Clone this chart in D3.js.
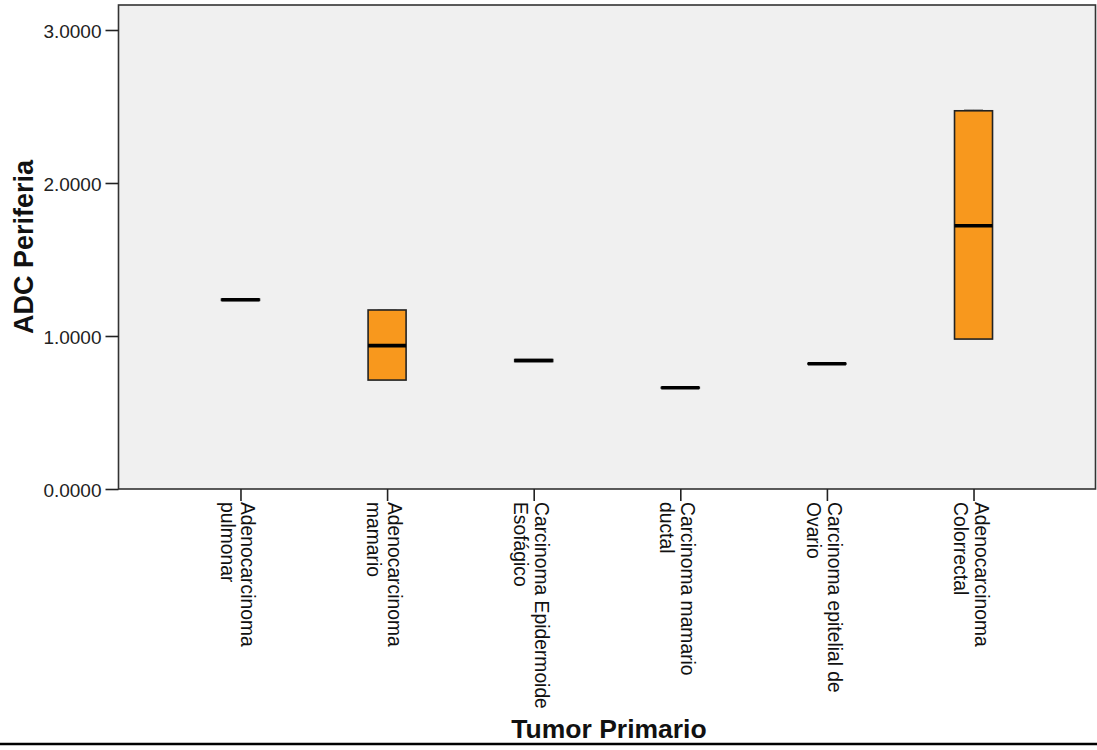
<!DOCTYPE html>
<html>
<head>
<meta charset="utf-8">
<script src="https://cdn.jsdelivr.net/npm/d3@7"></script>
<style>
  body { margin: 0; background: #fff; }
  svg { display: block; }
</style>
</head>
<body>
<div class="C"></div>
<script>
// tumor types (x categories), label split in two lines
var categories = ['Adenocarcinoma pulmonar', 'Adenocarcinoma mamario', 'Carcinoma Epidermoide Esofágico',
    'Carcinoma mamario ductal', 'Carcinoma epitelial de Ovario', 'Adenocarcinoma Colorrectal'];
var tickLines = [['Adenocarcinoma', 'pulmonar'], ['Adenocarcinoma', 'mamario'], ['Carcinoma Epidermoide', 'Esofágico'],
    ['Carcinoma mamario', 'ductal'], ['Carcinoma epitelial de', 'Ovario'], ['Adenocarcinoma', 'Colorrectal']];

// ADC periferia box values
var whiskerLow = [1.233, 0.712, 0.833, 0.660, 0.817, 0.980];
var q1 =         [1.233, 0.712, 0.833, 0.660, 0.817, 0.980];
var median =     [1.237, 0.937, 0.840, 0.662, 0.819, 1.721];
var q3 =         [1.241, 1.170, 0.846, 0.664, 0.821, 2.472];
var whiskerHigh = [1.241, 1.170, 0.846, 0.664, 0.821, 2.479];

var yTicks = [0, 1, 2, 3];

var W = 1097, H = 750;
var pLeft = 118.5, pRight = 1095.5, pTop = 5, pBottom = 489;
var font = 'Arial, "Liberation Sans", sans-serif';

var svg = d3.select('.C').append('svg').attr('width', W).attr('height', H);

var x = d3.scalePoint().domain(categories).range([pLeft, pRight]).padding(0.832);
var y = d3.scaleLinear().domain([0, 3.1634]).range([pBottom, pTop]);

// plot background
svg.append('rect')
    .attr('x', pLeft).attr('y', pTop)
    .attr('width', pRight - pLeft).attr('height', pBottom - pTop)
    .style('fill', '#f0f0f0').style('stroke', '#333').style('stroke-width', 1.6);

var boxes = categories.map(function (c, i) {
    return {cat: c, lo: whiskerLow[i], q1: q1[i], med: median[i], q3: q3[i], hi: whiskerHigh[i]};
});
var bw = 38;

var g = svg.append('g');
var box = g.selectAll('.box').data(boxes).enter().append('g').attr('class', 'box');

// whiskers
box.append('line')
    .attr('x1', function (d) { return x(d.cat) }).attr('x2', function (d) { return x(d.cat) })
    .attr('y1', function (d) { return y(d.hi) }).attr('y2', function (d) { return y(d.lo) })
    .style('stroke', '#999').style('stroke-width', 1);
box.append('line')
    .attr('x1', function (d) { return x(d.cat) - bw / 4 }).attr('x2', function (d) { return x(d.cat) + bw / 4 })
    .attr('y1', function (d) { return y(d.hi) }).attr('y2', function (d) { return y(d.hi) })
    .style('stroke', '#999').style('stroke-width', 1);

box.append('rect')
    .attr('x', function (d) { return x(d.cat) - bw / 2 })
    .attr('y', function (d) { return y(d.q3) })
    .attr('width', bw)
    .attr('height', function (d) { return y(d.q1) - y(d.q3) })
    .style('fill', '#f8981d').style('stroke', '#222').style('stroke-width', 1.6);

box.append('line')
    .attr('x1', function (d) { return x(d.cat) - bw / 2 }).attr('x2', function (d) { return x(d.cat) + bw / 2 })
    .attr('y1', function (d) { return y(d.med) }).attr('y2', function (d) { return y(d.med) })
    .style('stroke', '#000').style('stroke-width', 3.6);

// y axis
var yAxis = svg.append('g').attr('transform', 'translate(' + pLeft + ',0)')
    .call(d3.axisLeft(y).tickValues(yTicks).tickFormat(d3.format('.4f')).tickSize(13).tickPadding(4));
yAxis.select('.domain').remove();
yAxis.selectAll('line').style('stroke', '#222').style('stroke-width', 1.6);
yAxis.selectAll('text').attr('dy', '0.4em')
    .style('font-family', font).style('font-size', '19px').style('fill', '#222');

// x axis
var xAxis = svg.append('g').attr('transform', 'translate(0,' + pBottom + ')')
    .call(d3.axisBottom(x).tickSize(12).tickFormat(''));
xAxis.select('.domain').remove();
xAxis.selectAll('line').style('stroke', '#222').style('stroke-width', 1.6);

var lab = svg.append('g').selectAll('.xlab').data(categories).enter()
    .append('text')
    .attr('class', 'xlab')
    .attr('transform', function (d) { return 'translate(' + (x(d) + 1) + ',' + 502 + ') rotate(90)' })
    .style('font-family', font).style('font-size', '19.3px').style('fill', '#111');
lab.selectAll('tspan').data(function (d, i) { return tickLines[i] }).enter()
    .append('tspan')
    .attr('x', 0)
    .attr('dy', function (d, j) { return j === 0 ? 0 : '1.08em' })
    .text(function (d) { return d });

// axis titles
svg.append('text').text('ADC Periferia')
    .attr('transform', 'translate(33,' + ((pTop + pBottom) / 2) + ') rotate(-90)')
    .attr('text-anchor', 'middle')
    .style('font-family', font).style('font-weight', 'bold').style('font-size', '27px').style('fill', '#111');

svg.append('text').text('Tumor Primario')
    .attr('x', (pLeft + pRight) / 2 + 2).attr('y', 738)
    .attr('text-anchor', 'middle')
    .style('font-family', font).style('font-weight', 'bold').style('font-size', '26.5px').style('fill', '#111');

// bottom rule
svg.append('line').attr('x1', 0).attr('x2', W).attr('y1', 744).attr('y2', 744)
    .style('stroke', '#000').style('stroke-width', 2.5);
</script>
</body>
</html>
